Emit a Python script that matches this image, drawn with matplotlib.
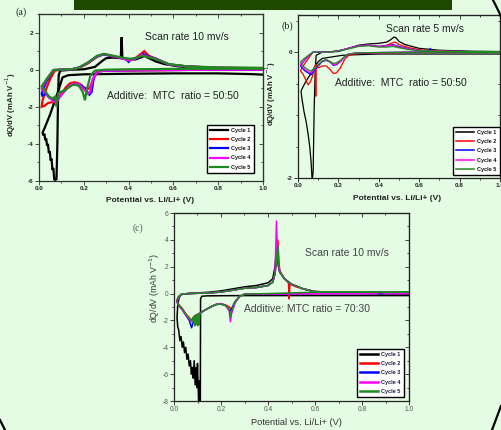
import matplotlib
matplotlib.use("Agg")
import matplotlib.pyplot as plt
from matplotlib.lines import Line2D
from matplotlib.patches import Rectangle
from matplotlib.ticker import MultipleLocator, FixedLocator

plt.rcParams['font.family'] = ['Liberation Sans', 'DejaVu Sans']
plt.rcParams['axes.unicode_minus'] = False

# ---------------- data ----------------
cycle_labels = ["Cycle 1", "Cycle 2", "Cycle 3", "Cycle 4", "Cycle 5"]
cycle_colors = ["#000000", "#ff0000", "#0000ff", "#ff00ff", "#1f8a1f"]

# Panel (a): MTC 50:50, 10 mV/s
a1_x = [1.0, 0.95, 0.8, 0.6, 0.4, 0.2, 0.13, 0.105, 0.09, 0.07, 0.05, 0.03, 0.016,
        0.02, 0.024, 0.028, 0.032, 0.036, 0.04, 0.044, 0.048, 0.052, 0.056, 0.06, 0.064, 0.068, 0.072,
        0.078, 0.082, 0.085, 0.088, 0.095, 0.15, 0.2, 0.25, 0.28, 0.3, 0.33, 0.365, 0.369, 0.372,
        0.38, 0.4, 0.43, 0.46, 0.47, 0.48, 0.52, 0.56, 0.62, 0.7, 0.8, 0.9, 1.0]
a1_y = [-0.27, -0.24, -0.2, -0.2, -0.22, -0.25, -0.3, -0.42, -1.0, -1.7, -2.4, -3.0, -3.4,
        -3.55, -3.45, -3.8, -3.7, -4.1, -4.0, -4.5, -4.4, -4.9, -4.8, -5.4, -5.3, -5.9, -5.95,
        -5.9, -4.0, -1.5, -0.3, -0.05, 0.0, 0.02, 0.15, 0.45, 0.62, 0.65, 0.62, 1.75, 0.65,
        0.6, 0.58, 0.55, 0.68, 0.75, 0.68, 0.45, 0.3, 0.18, 0.1, 0.05, 0.03, 0.02]
a2_x = [1.0, 0.8, 0.6, 0.4, 0.3, 0.26, 0.24, 0.225, 0.215, 0.2, 0.18, 0.16, 0.14, 0.12, 0.1, 0.08,
        0.06, 0.04, 0.025, 0.012, 0.015, 0.03, 0.05, 0.07, 0.1, 0.15, 0.18, 0.22, 0.26, 0.29, 0.33,
        0.37, 0.4, 0.43, 0.46, 0.47, 0.49, 0.52, 0.58, 0.66, 0.8, 1.0]
a2_y = [0.0, 0.0, -0.02, -0.05, -0.05, -0.1, -0.6, -1.0, -1.05, -0.95, -0.75, -0.68, -0.72, -0.95, -1.3,
        -1.7, -1.75, -1.8, -1.95, -2.0, -1.7, -1.1, -0.5, -0.05, 0.0, 0.03, 0.1, 0.35, 0.7, 0.85, 0.7,
        0.62, 0.5, 0.62, 0.9, 1.0, 0.75, 0.6, 0.28, 0.18, 0.1, 0.08]
a3_x = [1.0, 0.8, 0.6, 0.4, 0.3, 0.26, 0.245, 0.235, 0.225, 0.21, 0.19, 0.17, 0.15, 0.13, 0.11, 0.09,
        0.075, 0.06, 0.045, 0.03, 0.015, 0.012, 0.02, 0.035, 0.05, 0.065, 0.1, 0.15, 0.18, 0.22, 0.26,
        0.29, 0.33, 0.37, 0.39, 0.4, 0.41, 0.44, 0.465, 0.48, 0.52, 0.58, 0.66, 0.8, 1.0]
a3_y = [0.0, 0.0, -0.02, -0.03, -0.05, -0.1, -0.4, -1.2, -1.35, -1.1, -0.85, -0.78, -0.8, -0.95, -1.2,
        -1.5, -1.75, -1.6, -1.5, -1.3, -1.4, -1.3, -1.0, -0.6, -0.3, -0.02, 0.0, 0.03, 0.12, 0.38, 0.72,
        0.82, 0.72, 0.62, 0.55, 0.42, 0.55, 0.62, 0.85, 0.75, 0.6, 0.28, 0.17, 0.1, 0.07]
a4_x = [1.0, 0.8, 0.6, 0.4, 0.3, 0.26, 0.24, 0.228, 0.218, 0.2, 0.18, 0.165, 0.15, 0.13, 0.11, 0.09,
        0.075, 0.06, 0.045, 0.03, 0.015, 0.012, 0.02, 0.035, 0.05, 0.065, 0.1, 0.15, 0.18, 0.22, 0.26,
        0.29, 0.33, 0.37, 0.4, 0.43, 0.46, 0.48, 0.52, 0.58, 0.66, 0.8, 1.0]
a4_y = [0.0, 0.0, -0.02, -0.03, -0.05, -0.1, -0.5, -1.2, -1.3, -1.05, -0.8, -0.75, -0.78, -0.95, -1.2,
        -1.5, -1.8, -1.65, -1.5, -1.25, -1.1, -1.0, -0.85, -0.5, -0.25, -0.02, 0.0, 0.03, 0.12, 0.38, 0.74,
        0.84, 0.74, 0.62, 0.5, 0.6, 0.8, 0.72, 0.6, 0.28, 0.17, 0.1, 0.07]
a5_x = [1.0, 0.8, 0.6, 0.4, 0.3, 0.25, 0.23, 0.215, 0.205, 0.195, 0.18, 0.165, 0.15, 0.13, 0.11,
        0.095, 0.085, 0.078, 0.072, 0.06, 0.045, 0.03, 0.015, 0.012, 0.02, 0.035, 0.05, 0.065, 0.1,
        0.15, 0.18, 0.22, 0.26, 0.29, 0.33, 0.37, 0.4, 0.43, 0.46, 0.48, 0.52, 0.58, 0.66, 0.8, 1.0]
a5_y = [0.05, 0.05, 0.04, 0.02, 0.0, -0.05, -0.3, -1.0, -1.65, -1.2, -0.9, -0.8, -0.82, -0.98, -1.15,
        -1.2, -1.3, -2.0, -1.45, -1.55, -1.45, -1.2, -0.95, -0.9, -0.75, -0.5, -0.25, -0.02, 0.0,
        0.03, 0.12, 0.4, 0.75, 0.85, 0.75, 0.65, 0.58, 0.62, 0.75, 0.7, 0.58, 0.3, 0.18, 0.12, 0.1]

# Panel (b): MTC 50:50, 5 mV/s
b1_x = [1.0, 0.8, 0.6, 0.4, 0.3, 0.22, 0.16, 0.12, 0.1, 0.08, 0.06, 0.04, 0.025, 0.015, 0.02, 0.03,
        0.04, 0.05, 0.058, 0.065, 0.07, 0.075, 0.08, 0.085, 0.09, 0.12, 0.2, 0.25, 0.3, 0.35, 0.4,
        0.44, 0.46, 0.475, 0.485, 0.5, 0.53, 0.6, 0.7, 0.85, 1.0]
b1_y = [-0.03, -0.03, -0.03, -0.03, -0.04, -0.05, -0.08, -0.1, -0.15, -0.25, -0.36, -0.46, -0.55,
        -0.62, -0.75, -0.95, -1.1, -1.3, -1.5, -1.75, -2.05, -1.9, -0.9, -0.3, -0.05, 0.0, 0.01, 0.06,
        0.11, 0.13, 0.14, 0.16, 0.2, 0.24, 0.23, 0.17, 0.12, 0.06, 0.03, 0.015, 0.01]
b2_x = [1.0, 0.6, 0.3, 0.25, 0.23, 0.21, 0.19, 0.175, 0.16, 0.14, 0.12, 0.1, 0.09, 0.088, 0.086,
        0.07, 0.06, 0.05, 0.04, 0.025, 0.012, 0.02, 0.04, 0.06, 0.075, 0.15, 0.2, 0.25, 0.3, 0.35,
        0.4, 0.44, 0.47, 0.48, 0.5, 0.55, 0.62, 0.8, 1.0]
b2_y = [0.0, 0.0, -0.02, -0.05, -0.12, -0.25, -0.33, -0.34, -0.28, -0.22, -0.22, -0.25, -0.2, -0.7,
        -0.2, -0.4, -0.48, -0.52, -0.45, -0.35, -0.3, -0.25, -0.15, -0.06, 0.0, 0.0, 0.02, 0.06, 0.1,
        0.11, 0.09, 0.11, 0.15, 0.16, 0.12, 0.07, 0.03, 0.01, 0.0]
b3_x = [1.0, 0.6, 0.3, 0.25, 0.23, 0.21, 0.19, 0.175, 0.16, 0.14, 0.12, 0.1, 0.08, 0.065, 0.05,
        0.035, 0.02, 0.012, 0.02, 0.04, 0.06, 0.075, 0.15, 0.2, 0.25, 0.3, 0.35, 0.4, 0.44, 0.47,
        0.5, 0.55, 0.62, 0.65, 0.655, 0.66, 0.8, 1.0]
b3_y = [0.0, 0.0, -0.01, -0.03, -0.08, -0.15, -0.2, -0.21, -0.16, -0.13, -0.15, -0.22, -0.3, -0.36,
        -0.33, -0.3, -0.25, -0.22, -0.18, -0.1, -0.04, 0.0, 0.0, 0.02, 0.06, 0.1, 0.11, 0.09, 0.1,
        0.12, 0.09, 0.05, 0.02, 0.02, 0.06, 0.01, 0.01, 0.0]
b4_x = [1.0, 0.6, 0.3, 0.25, 0.23, 0.21, 0.19, 0.175, 0.16, 0.14, 0.12, 0.1, 0.08, 0.065, 0.05,
        0.035, 0.02, 0.012, 0.02, 0.04, 0.06, 0.075, 0.15, 0.2, 0.25, 0.3, 0.35, 0.4, 0.44, 0.47,
        0.5, 0.55, 0.62, 0.8, 1.0]
b4_y = [0.0, 0.0, -0.01, -0.03, -0.08, -0.15, -0.19, -0.2, -0.16, -0.12, -0.14, -0.2, -0.28, -0.33,
        -0.31, -0.28, -0.23, -0.2, -0.17, -0.1, -0.04, 0.0, 0.0, 0.02, 0.06, 0.1, 0.11, 0.09, 0.1,
        0.11, 0.08, 0.05, 0.02, 0.01, 0.0]
b5_x = [1.0, 0.6, 0.3, 0.25, 0.23, 0.21, 0.19, 0.175, 0.16, 0.14, 0.12, 0.1, 0.08, 0.065, 0.05,
        0.035, 0.02, 0.012, 0.02, 0.04, 0.06, 0.075, 0.15, 0.2, 0.25, 0.3, 0.35, 0.4, 0.44, 0.47,
        0.5, 0.55, 0.62, 0.8, 1.0]
b5_y = [0.0, 0.0, -0.01, -0.03, -0.07, -0.13, -0.17, -0.18, -0.15, -0.12, -0.14, -0.2, -0.26, -0.3,
        -0.28, -0.25, -0.2, -0.16, -0.13, -0.08, -0.03, 0.0, 0.0, 0.02, 0.05, 0.09, 0.1, 0.08, 0.08,
        0.09, 0.07, 0.04, 0.02, 0.01, 0.0]

# Panel (c): MTC 70:30, 10 mV/s
c1_x = [1.0, 0.8, 0.6, 0.4, 0.3, 0.2, 0.14, 0.118, 0.113, 0.112, 0.108, 0.105, 0.1, 0.097, 0.094,
        0.09, 0.086, 0.082, 0.078, 0.074, 0.07, 0.065, 0.06, 0.055, 0.05, 0.045, 0.04, 0.035, 0.03,
        0.025, 0.02, 0.016, 0.013, 0.016, 0.022, 0.03, 0.06, 0.1, 0.15, 0.2, 0.25, 0.3, 0.35, 0.4,
        0.42, 0.43, 0.436, 0.44, 0.445, 0.45, 0.47, 0.5, 0.55, 0.6, 0.7, 0.85, 1.0]
c1_y = [-0.15, -0.15, -0.15, -0.15, -0.15, -0.16, -0.17, -0.2, -0.4, -8.3, -6.5, -8.3, -5.2, -7.0,
        -5.5, -6.8, -5.0, -6.3, -5.5, -6.0, -5.0, -5.4, -4.5, -4.9, -4.0, -4.4, -3.6, -4.0, -3.2,
        -3.5, -2.7, -2.5, -1.8, -0.8, -0.3, -0.05, 0.0, 0.05, 0.1, 0.2, 0.35, 0.5, 0.6, 0.8,
        1.1, 2.0, 3.5, 3.0, 2.0, 1.6, 1.1, 0.7, 0.35, 0.12, 0.05, 0.0, -0.02]
c2_x = [1.0, 0.6, 0.3, 0.28, 0.26, 0.245, 0.235, 0.22, 0.2, 0.18, 0.16, 0.14, 0.12, 0.1, 0.085,
        0.075, 0.065, 0.05, 0.035, 0.02, 0.012, 0.02, 0.035, 0.06, 0.15, 0.2, 0.25, 0.3, 0.35, 0.4,
        0.42, 0.43, 0.438, 0.442, 0.446, 0.45, 0.47, 0.487, 0.49, 0.493, 0.52, 0.55, 0.6, 0.7, 1.0]
c2_y = [0.0, 0.0, -0.05, -0.2, -0.6, -1.2, -1.0, -0.85, -0.75, -0.8, -0.95, -1.15, -1.35, -1.55,
        -1.7, -2.0, -1.8, -1.5, -1.1, -0.8, -0.5, -0.2, -0.05, 0.0, 0.05, 0.12, 0.25, 0.4, 0.45, 0.6,
        0.85, 1.5, 3.0, 4.0, 2.5, 1.7, 1.1, 0.8, -0.4, 0.7, 0.5, 0.35, 0.15, 0.08, 0.08]
c3_x = [1.0, 0.6, 0.3, 0.28, 0.26, 0.24, 0.23, 0.22, 0.2, 0.18, 0.16, 0.14, 0.12, 0.1, 0.085,
        0.075, 0.065, 0.05, 0.035, 0.02, 0.012, 0.02, 0.035, 0.06, 0.15, 0.2, 0.25, 0.3, 0.35, 0.4,
        0.42, 0.43, 0.436, 0.44, 0.445, 0.45, 0.47, 0.5, 0.55, 0.6, 0.7, 1.0]
c3_y = [0.0, 0.0, -0.05, -0.2, -0.6, -1.3, -1.1, -0.9, -0.78, -0.82, -0.97, -1.15, -1.35, -1.6,
        -1.9, -2.55, -2.0, -1.6, -1.2, -0.9, -0.6, -0.25, -0.05, 0.0, 0.05, 0.12, 0.25, 0.4, 0.45,
        0.6, 0.85, 1.5, 2.8, 2.5, 2.0, 1.6, 1.1, 0.7, 0.35, 0.15, 0.08, 0.08]
c4_x = [1.0, 0.9, 0.88, 0.86, 0.6, 0.3, 0.28, 0.26, 0.245, 0.24, 0.235, 0.22, 0.2, 0.18, 0.16,
        0.14, 0.12, 0.1, 0.085, 0.075, 0.065, 0.05, 0.035, 0.02, 0.012, 0.02, 0.035, 0.06, 0.15,
        0.2, 0.25, 0.3, 0.35, 0.4, 0.42, 0.43, 0.436, 0.44, 0.445, 0.45, 0.47, 0.5, 0.55, 0.6, 0.7,
        1.0]
c4_y = [0.0, 0.0, 0.15, 0.0, 0.0, -0.05, -0.2, -0.7, -1.5, -2.1, -1.3, -0.9, -0.75, -0.8, -0.95,
        -1.15, -1.35, -1.55, -1.8, -2.1, -1.9, -1.6, -1.2, -0.9, -0.6, -0.25, -0.05, 0.0, 0.05,
        0.12, 0.25, 0.4, 0.45, 0.6, 0.85, 1.5, 5.4, 3.0, 2.0, 1.6, 1.1, 0.7, 0.35, 0.15, 0.08, 0.08]
c5_x = [1.0, 0.6, 0.3, 0.28, 0.26, 0.245, 0.24, 0.235, 0.22, 0.2, 0.18, 0.16, 0.14, 0.12, 0.11,
        0.107, 0.104, 0.101, 0.098, 0.095, 0.092, 0.089, 0.086, 0.083, 0.08, 0.075, 0.065, 0.05,
        0.035, 0.02, 0.012, 0.02, 0.035, 0.06, 0.15, 0.2, 0.25, 0.3, 0.35, 0.4, 0.42, 0.43, 0.438,
        0.442, 0.446, 0.45, 0.47, 0.5, 0.55, 0.6, 0.7, 0.8, 0.9, 1.0]
c5_y = [0.1, 0.1, -0.05, -0.2, -0.6, -1.3, -1.75, -1.2, -0.9, -0.78, -0.8, -0.95, -1.15, -1.35,
        -1.5, -2.3, -1.5, -2.4, -1.6, -2.3, -1.6, -2.4, -1.7, -2.2, -1.8, -2.0, -1.85, -1.55, -1.15,
        -0.85, -0.55, -0.2, -0.05, 0.0, 0.05, 0.12, 0.25, 0.4, 0.45, 0.6, 0.85, 1.5, 2.8, 3.5, 2.2,
        1.6, 1.1, 0.7, 0.35, 0.15, 0.1, 0.12, 0.08, 0.1]

panel_a = [(a1_x, a1_y), (a2_x, a2_y), (a3_x, a3_y), (a4_x, a4_y), (a5_x, a5_y)]
panel_b = [(b1_x, b1_y), (b2_x, b2_y), (b3_x, b3_y), (b4_x, b4_y), (b5_x, b5_y)]
panel_c = [(c1_x, c1_y), (c2_x, c2_y), (c3_x, c3_y), (c4_x, c4_y), (c5_x, c5_y)]

x_ticks = [0.0, 0.2, 0.4, 0.6, 0.8, 1.0]
x_ticklabels = ["0.0", "0.2", "0.4", "0.6", "0.8", "1.0"]
a_yticks = [-6, -4, -2, 0, 2]
b_yticks = [-2, 0]
c_yticks = [-8, -6, -4, -2, 0, 2, 4, 6]

# ---------------- figure ----------------
W, H = 501, 430
fig = plt.figure(figsize=(W / 100, H / 100), dpi=100)
fig.patch.set_facecolor('#e4fbe4')

# dark green banner at top
fig.add_artist(Rectangle((74 / W, 1 - 10 / H), (452 - 74) / W, 10 / H,
                         transform=fig.transFigure, facecolor='#1e4800', edgecolor='none', zorder=5))
# decorative frame arcs
for px, py in [([493, 496, 499, 501], [0, 6, 12, 17]),
               ([501, 498, 495, 492], [406, 414, 422, 430]),
               ([0, 2, 5], [420, 424, 430])]:
    fig.add_artist(Line2D([p / W for p in px], [1 - p / H for p in py], transform=fig.transFigure,
                          color='black', lw=1.6, zorder=5))


def make_axes(rect, ylim, yticks, ymin_step, tick_color, label_bold, spine_color, tick_fs):
    ax = fig.add_axes(rect)
    ax.set_facecolor('none')
    ax.set_xlim(0, 1.0)
    ax.set_ylim(*ylim)
    ax.xaxis.set_major_locator(FixedLocator(x_ticks))
    ax.set_xticklabels(x_ticklabels)
    ax.xaxis.set_minor_locator(MultipleLocator(0.1))
    ax.yaxis.set_major_locator(FixedLocator(yticks))
    ax.set_yticklabels([str(v) for v in yticks])
    ax.yaxis.set_minor_locator(MultipleLocator(ymin_step))
    ax.tick_params(which='both', direction='out', width=0.6, color=spine_color,
                   labelsize=tick_fs, labelcolor=tick_color, pad=1.2)
    ax.tick_params(which='major', length=2.6)
    ax.tick_params(which='minor', length=1.5)
    for lbl in ax.get_xticklabels() + ax.get_yticklabels():
        lbl.set_fontweight('bold' if label_bold else 'normal')
    for s in ax.spines.values():
        s.set_color(spine_color)
        s.set_linewidth(0.9)
    top = ax.secondary_xaxis('top')
    top.xaxis.set_major_locator(FixedLocator(x_ticks))
    top.xaxis.set_minor_locator(MultipleLocator(0.1))
    top.tick_params(which='both', direction='in', labeltop=False, width=0.6, color=spine_color)
    top.tick_params(which='major', length=2.6)
    top.tick_params(which='minor', length=1.5)
    top.spines['top'].set_color(spine_color)
    right = ax.secondary_yaxis('right')
    right.yaxis.set_major_locator(FixedLocator(yticks))
    right.yaxis.set_minor_locator(MultipleLocator(ymin_step))
    right.tick_params(which='both', direction='in', labelright=False, width=0.6, color=spine_color)
    right.tick_params(which='major', length=2.6)
    right.tick_params(which='minor', length=1.5)
    right.spines['right'].set_color(spine_color)
    return ax


def add_legend(ax, anchor, fs, lw, txtcolor):
    hs = [Line2D([], [], color=c, lw=lw) for c in cycle_colors]
    leg = ax.legend(hs, cycle_labels, loc='lower right', bbox_to_anchor=anchor, borderaxespad=0,
                    prop={'weight': 'bold', 'size': fs}, frameon=True, fancybox=False,
                    edgecolor='black', facecolor='white', framealpha=1, handlelength=3.2,
                    handletextpad=0.6, labelspacing=0.75, borderpad=0.6)
    leg.get_frame().set_linewidth(1.0)
    for t in leg.get_texts():
        t.set_color(txtcolor)
    return leg


ylab = 'dQ/dV (mAh V$^{-1}$)'
xlab = 'Potential vs. Li/Li+ (V)'

# ---- panel (a)
axA = make_axes([39 / W, 1 - 181 / H, 224 / W, 167 / H], (-6, 3), a_yticks, 1, '#222222', True, '#333333', 4.6)
for (xs, ys), col in zip(panel_a, cycle_colors):
    axA.plot(xs, ys, color=col, lw=1.6, solid_joinstyle='miter')
axA.set_xlabel(xlab, fontsize=6, fontweight='bold', color='#222222')
axA.xaxis.set_label_coords(0.496, -0.096)
axA.set_ylabel(ylab, fontsize=5.6, fontweight='bold', color='#222222')
axA.yaxis.set_label_coords(-0.094, 0.46)
axA.text(0.473, 1.78, 'Scan rate 10 mv/s', fontsize=7.5, va='center', color='#222222')
axA.text(0.305, -1.4, 'Additive:  MTC  ratio = 50:50', fontsize=7.5, va='center', color='#222222')
add_legend(axA, (0.96, 0.048), 4.0, 1.6, '#111111')
fig.text(16 / W, 1 - 12.5 / H, '(a)', fontsize=7.2, family='Liberation Serif', va='center', color='#222222')

# ---- panel (b)
axB = make_axes([298 / W, 1 - 178 / H, 202 / W, 163 / H], (-2, 0.59), b_yticks, 0.5, '#222222', True, '#222222', 4.6)
for (xs, ys), col in zip(panel_b, cycle_colors):
    axB.plot(xs, ys, color=col, lw=0.9)
axB.set_xlabel(xlab, fontsize=6, fontweight='bold', color='#222222')
axB.xaxis.set_label_coords(0.49, -0.104)
axB.set_ylabel(ylab, fontsize=5.6, fontweight='bold', color='#222222')
axB.yaxis.set_label_coords(-0.099, 0.515)
axB.text(0.436, 0.365, 'Scan rate 5 mv/s', fontsize=7.5, va='center', color='#222222')
axB.text(0.183, -0.49, 'Additive:  MTC  ratio = 50:50', fontsize=7.5, va='center', color='#222222')
add_legend(axB, (1.0, 0.018), 4.0, 1.1, '#111111')
fig.text(281 / W, 1 - 26 / H, '(b)', fontsize=7.2, family='Liberation Serif', va='center', color='#222222')

# ---- panel (c)
axC = make_axes([174 / W, 1 - 401 / H, 235 / W, 188 / H], (-8, 6), c_yticks, 1, '#555555', False, '#222222', 4.8)
for (xs, ys), col in zip(panel_c, cycle_colors):
    axC.plot(xs, ys, color=col, lw=1.1)
axC.set_xlabel(xlab, fontsize=6.7, color='#333333')
axC.xaxis.set_label_coords(0.523, -0.088)
axC.set_ylabel(ylab, fontsize=6.3, color='#333333')
axC.yaxis.set_label_coords(-0.051, 0.6)
axC.text(0.557, 3.05, 'Scan rate 10 mv/s', fontsize=7.5, va='center', color='#444444')
axC.text(0.30, -1.12, 'Additive: MTC ratio = 70:30', fontsize=7.5, va='center', color='#444444')
add_legend(axC, (0.979, 0.021), 4.0, 1.8, '#1a1a44')
fig.text(133 / W, 1 - 228 / H, '(c)', fontsize=7.0, family='Liberation Serif', va='center', color='#555555')

fig.savefig('out.png', dpi=100, facecolor=fig.get_facecolor())
